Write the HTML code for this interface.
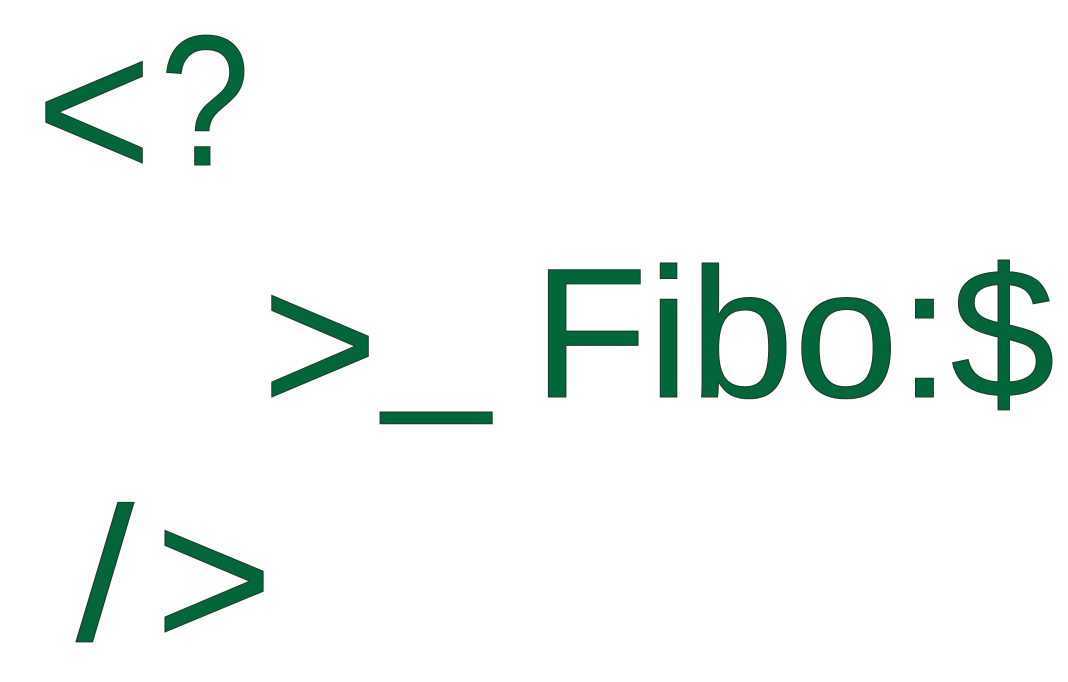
<!DOCTYPE html>
<html>
<head>
<meta charset="utf-8">
<style>
html,body{margin:0;padding:0;background:#fff;}
svg{display:block;}
text{font-family:"Liberation Sans",sans-serif;fill:#03653a;stroke:#1f3a2a;stroke-width:1;}
</style>
</head>
<body>
<svg width="1068" height="682" viewBox="0 0 1068 682">
  <text x="36" y="178" font-size="200" textLength="116" lengthAdjust="spacingAndGlyphs">&lt;</text>
  <text x="160" y="165" font-size="186" textLength="90" lengthAdjust="spacingAndGlyphs">?</text>
  <text x="262" y="412" font-size="200" textLength="116" lengthAdjust="spacingAndGlyphs">&gt;</text>
  <text x="383" y="387" font-size="185" textLength="107" lengthAdjust="spacingAndGlyphs">_</text>
  <text x="533" y="397" font-size="185" textLength="522" lengthAdjust="spacingAndGlyphs">Fibo:$</text>
  <text x="76" y="640" font-size="190" textLength="58" lengthAdjust="spacingAndGlyphs">/</text>
  <text x="155" y="647" font-size="200" textLength="118" lengthAdjust="spacingAndGlyphs">&gt;</text>
</svg>
</body>
</html>
